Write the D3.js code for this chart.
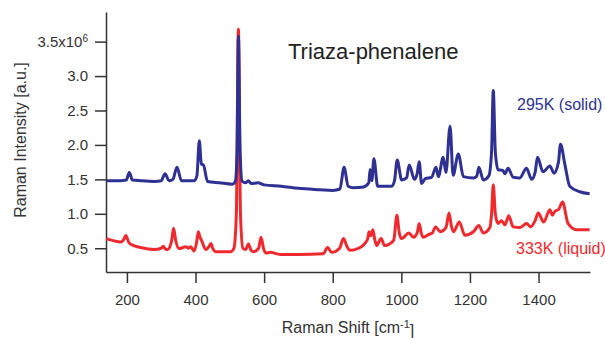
<!DOCTYPE html>
<html>
<head>
<meta charset="utf-8">
<script src="https://cdn.jsdelivr.net/npm/d3@7"></script>
<style>
  html, body { margin: 0; padding: 0; background: #fff; }
  svg { display: block; }
</style>
</head>
<body>
<svg id="chart" width="605" height="338"></svg>
<script>
// Raman spectra of triaza-phenalene, intensities in units of 1e6
const solidShift = [140, 180, 198, 207, 216, 240, 280, 300, 311, 323, 334, 346, 359, 396, 404, 411, 417, 423, 435, 470, 507, 516, 521, 525, 530, 536, 546, 554, 562, 582, 600, 650, 700, 763, 800, 821, 833, 845, 860, 890, 905, 909, 914, 920, 931, 972, 980, 988, 1001, 1015, 1023, 1038, 1046, 1052, 1059, 1070, 1088, 1101, 1108, 1122, 1130, 1142, 1151, 1166, 1181, 1210, 1220, 1226, 1239, 1255, 1263, 1268, 1274, 1282, 1296, 1302, 1311, 1326, 1345, 1365, 1380, 1390, 1397, 1413, 1433, 1445, 1458, 1464, 1477, 1491, 1520, 1549];
const solidIntensity = [1.48, 1.48, 1.49, 1.60, 1.49, 1.48, 1.47, 1.48, 1.58, 1.48, 1.50, 1.675, 1.48, 1.48, 1.55, 2.06, 1.72, 1.71, 1.47, 1.45, 1.43, 1.47, 1.9, 3.58, 1.9, 1.47, 1.45, 1.48, 1.44, 1.45, 1.42, 1.40, 1.37, 1.35, 1.34, 1.36, 1.675, 1.40, 1.38, 1.39, 1.45, 1.645, 1.48, 1.80, 1.40, 1.40, 1.48, 1.78, 1.49, 1.52, 1.71, 1.50, 1.58, 1.757, 1.44, 1.51, 1.53, 1.675, 1.54, 1.82, 1.60, 2.27, 1.56, 1.87, 1.54, 1.52, 1.55, 1.675, 1.49, 1.55, 1.9, 2.79, 1.9, 1.64, 1.63, 1.58, 1.66, 1.53, 1.52, 1.66, 1.50, 1.60, 1.82, 1.61, 1.695, 1.59, 1.75, 2.01, 1.71, 1.40, 1.32, 1.29];

const liquidShift = [140, 160, 183, 190, 197, 204, 210, 240, 280, 300, 306, 312, 318, 330, 336, 342, 352, 372, 380, 386, 396, 403, 408, 413, 417, 430, 440, 445, 450, 459, 503, 512, 519, 525, 531, 538, 546, 554, 562, 569, 584, 591, 598, 606, 617, 647, 700, 772, 785, 797, 820, 831, 842, 850, 875, 894, 902, 906, 911, 917, 922, 928, 941, 951, 965, 978, 987, 994, 1001, 1022, 1035, 1046, 1052, 1058, 1064, 1080, 1090, 1100, 1113, 1130, 1139, 1146, 1152, 1169, 1185, 1210, 1226, 1239, 1258, 1263, 1268, 1274, 1282, 1292, 1302, 1313, 1326, 1346, 1365, 1377, 1390, 1399, 1415, 1433, 1440, 1448, 1458, 1470, 1486, 1510, 1549];
const liquidIntensity = [0.64, 0.61, 0.59, 0.62, 0.685, 0.60, 0.56, 0.51, 0.48, 0.50, 0.53, 0.49, 0.48, 0.60, 0.79, 0.62, 0.495, 0.52, 0.50, 0.52, 0.46, 0.58, 0.74, 0.66, 0.62, 0.48, 0.53, 0.57, 0.50, 0.45, 0.45, 0.50, 1.0, 3.68, 1.0, 0.50, 0.48, 0.56, 0.47, 0.45, 0.50, 0.66, 0.50, 0.43, 0.44, 0.41, 0.41, 0.42, 0.51, 0.44, 0.50, 0.64, 0.52, 0.47, 0.50, 0.57, 0.64, 0.74, 0.68, 0.77, 0.64, 0.54, 0.64, 0.54, 0.56, 0.62, 0.98, 0.72, 0.64, 0.72, 0.66, 0.72, 0.86, 0.72, 0.66, 0.70, 0.72, 0.81, 0.74, 0.80, 1.01, 0.82, 0.74, 0.88, 0.69, 0.74, 0.83, 0.72, 0.80, 1.0, 1.42, 1.0, 0.86, 0.90, 0.84, 0.97, 0.81, 0.80, 0.86, 0.81, 0.90, 1.01, 0.88, 1.06, 0.98, 1.04, 1.06, 1.17, 0.86, 0.77, 0.77];

const xTicks = [200, 400, 600, 800, 1000, 1200, 1400];
const yTicks = [0.5, 1.0, 1.5, 2.0, 2.5, 3.0, 3.5];

const COLORS = {
    solid: '#2e3192',
    liquid: '#ee2a2e',
    axis: '#333333',
};
const FONT = 'Liberation Sans, Arial, Helvetica, sans-serif';

const width = 605;
const height = 338;
const margin = { top: 12, right: 15, bottom: 66, left: 106 };

const svg = d3.select('#chart');

const x = d3.scaleLinear().domain([139, 1550]).range([margin.left, width - margin.right]);
const y = d3.scaleLinear().domain([0.155, 3.93]).range([height - margin.bottom, margin.top]);

const line = d3.line()
    .x((d) => x(d[0]))
    .y((d) => y(d[1]))
    .curve(d3.curveMonotoneX);

// axes
const xAxis = svg.append('g')
    .attr('transform', `translate(0, ${height - margin.bottom})`)
    .call(d3.axisBottom(x).tickValues(xTicks).tickSize(11).tickSizeOuter(0).tickPadding(11).tickFormat(d3.format('d')));

const yAxis = svg.append('g')
    .attr('transform', `translate(${margin.left}, 0)`)
    .call(d3.axisLeft(y).tickValues(yTicks).tickSize(11).tickSizeOuter(0).tickPadding(7).tickFormat(d3.format('.1f')));

[xAxis, yAxis].forEach((g) => {
    g.select('.domain').attr('stroke', COLORS.axis).attr('stroke-width', 1.5);
    g.selectAll('.tick line').attr('stroke', COLORS.axis).attr('stroke-width', 1.5);
    g.selectAll('.tick text')
        .attr('fill', COLORS.axis)
        .attr('font-family', FONT)
        .attr('font-size', 15);
});

// top tick label gets the x10^6 factor
yAxis.selectAll('.tick text')
    .filter((d) => d === 3.5)
    .text('3.5x10')
    .append('tspan')
    .attr('dy', '-0.45em')
    .attr('font-size', 10)
    .text('6');

// spectra (liquid first, solid drawn over it)
const solidData = solidShift.map((s, i) => [s, solidIntensity[i]]);
const liquidData = liquidShift.map((s, i) => [s, liquidIntensity[i]]);

svg.append('path')
    .datum(liquidData)
    .attr('fill', 'none')
    .attr('stroke', COLORS.liquid)
    .attr('stroke-width', 3)
    .attr('stroke-linejoin', 'round')
    .attr('d', line);

svg.append('path')
    .datum(solidData)
    .attr('fill', 'none')
    .attr('stroke', COLORS.solid)
    .attr('stroke-width', 3)
    .attr('stroke-linejoin', 'round')
    .attr('d', line);

// labels
svg.append('text')
    .attr('x', 288)
    .attr('y', 59)
    .attr('font-family', FONT)
    .attr('font-size', 22)
    .attr('fill', '#222')
    .text('Triaza-phenalene');

svg.append('text')
    .attr('x', 517)
    .attr('y', 110)
    .attr('font-family', FONT)
    .attr('font-size', 16)
    .attr('fill', COLORS.solid)
    .text('295K (solid)');

svg.append('text')
    .attr('x', 516)
    .attr('y', 254)
    .attr('font-family', FONT)
    .attr('font-size', 16)
    .attr('fill', COLORS.liquid)
    .text('333K (liquid)');

const xLabel = svg.append('text')
    .attr('x', (margin.left + width - margin.right) / 2)
    .attr('y', 333)
    .attr('text-anchor', 'middle')
    .attr('font-family', FONT)
    .attr('font-size', 16)
    .attr('fill', COLORS.axis)
    .text('Raman Shift [cm');
xLabel.append('tspan').attr('dy', '-0.5em').attr('font-size', 11).text('-1');
xLabel.append('tspan').attr('dy', '0.5em').text(']');

svg.append('text')
    .attr('transform', 'translate(26, 140) rotate(-90)')
    .attr('text-anchor', 'middle')
    .attr('font-family', FONT)
    .attr('font-size', 16)
    .attr('fill', COLORS.axis)
    .text('Raman Intensity [a.u.]');
</script>
</body>
</html>
